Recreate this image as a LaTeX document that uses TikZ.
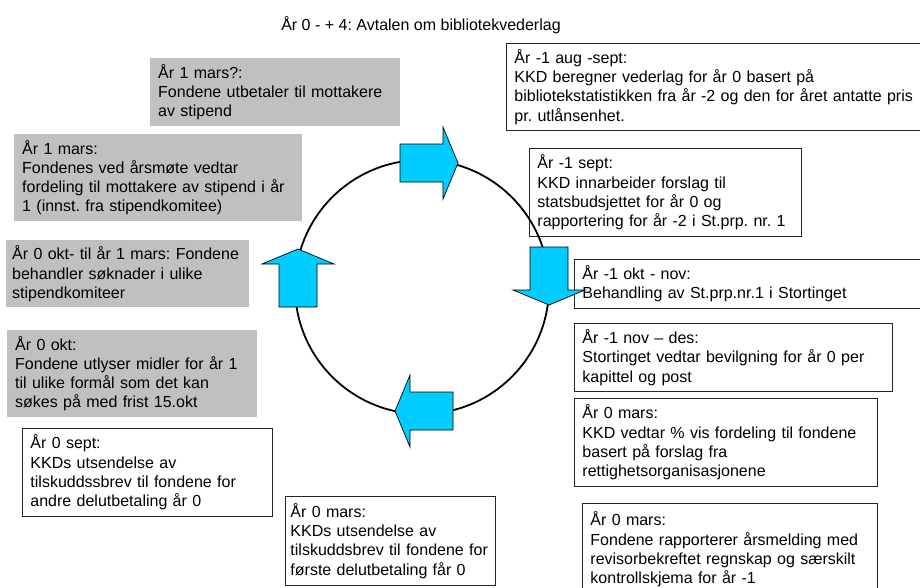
\documentclass[tikz,border=0pt]{standalone}
\usepackage{fontspec}
\setmainfont{Liberation Sans}
\usepackage{tikz}
\usepackage{xcolor}
\frenchspacing
\definecolor{boxgray}{HTML}{C0C0C0}
\definecolor{arrowblue}{HTML}{00CCFF}
\tikzset{textbox/.style={anchor=north west, align=left, inner xsep=8pt, inner ysep=2pt},
 graybox/.style={textbox, fill=boxgray},
 whitebox/.style={textbox, draw=black!85, line width=0.9pt},
 cyclearrow/.style={fill=arrowblue, draw=black, line width=0.7pt},
 }

\begin{document}
\begin{tikzpicture}[x=1pt, y=-1pt, font=\fontsize{16}{19.3}\selectfont]
        \useasboundingbox (0, 0) rectangle (920, 587);
        \node (title) at (421, 25) {År 0 - + 4: Avtalen om bibliotekvederlag};
        \node [graybox, text width=234pt, minimum height=68pt] (utbetaler) at (150, 58) {År 1 mars?:\\Fondene utbetaler til mottakere\\av stipend};
        \node [graybox, text width=272pt, minimum height=87pt] (aarsmote) at (14, 134) {År 1 mars:\\Fondenes ved årsmøte vedtar\\fordeling til mottakere av stipend i år\\1 (innst. fra stipendkomitee)};
        \node [graybox, inner xsep=6pt, text width=231pt, minimum height=67pt] (behandler) at (6, 240) {År 0 okt- til år 1 mars: Fondene\\behandler søknader i ulike\\stipendkomiteer};
        \node [graybox, text width=234pt, minimum height=87pt] (utlyser) at (7, 330) {År 0 okt:\\Fondene utlyser midler for år 1\\til ulike formål som det kan\\søkes på med frist 15.okt};
        \node [whitebox, text width=234pt, minimum height=88pt] (brevandre) at (22, 428) {År 0 sept:\\KKDs utsendelse av\\tilskuddssbrev til fondene for\\andre delutbetaling år 0};
        \node [whitebox, inner xsep=5pt, text width=200pt, minimum height=89pt] (brevforste) at (285, 496) {År 0 mars:\\KKDs utsendelse av\\tilskuddsbrev til fondene for\\første delutbetaling får 0};
        \node [whitebox, text width=408pt, minimum height=87pt] (beregner) at (506, 43) {År -1 aug -sept:\\KKD beregner vederlag for år 0 basert på\\bibliotekstatistikken fra år -2 og den for året antatte pris\\pr. utlånsenhet.};
        \node [whitebox, text width=256pt, minimum height=88pt] (innarbeider) at (529, 148) {År -1 sept:\\KKD innarbeider forslag til\\statsbudsjettet for år 0 og\\rapportering for år -2 i St.prp. nr. 1};
        \node [whitebox, text width=340pt, minimum height=49pt] (stortinget) at (574, 259) {År -1 okt - nov:\\Behandling av St.prp.nr.1 i Stortinget};
        \node [whitebox, text width=302pt, minimum height=68pt] (bevilgning) at (574, 323) {År -1 nov – des:\\Stortinget vedtar bevilgning for år 0 per\\kapittel og post};
        \node [whitebox, text width=287pt, minimum height=88pt] (fordeling) at (574, 398) {År 0 mars:\\KKD vedtar \% vis fordeling til fondene\\basert på forslag fra\\rettighetsorganisasjonene};
        \node [whitebox, text width=279pt, minimum height=92pt] (rapporterer) at (582, 503) {År 0 mars:\\Fondene rapporterer årsmelding med\\revisorbekreftet regnskap og særskilt\\kontrollskjema for år -1};
        \draw [line width=1.8pt] (422, 287) circle [radius=127pt];
        \foreach \cx/\cy/\ang in {429/163/0, 549/276/-90, 424/411/180, 298/278/90}
            \draw [cyclearrow, shift={(\cx, \cy)}, rotate=\ang] (-29, -19) -- (14, -19) -- (14, -36) -- (29, 0) -- (14, 36) -- (14, 19) -- (-29, 19) -- cycle;
\end{tikzpicture}
\end{document}
